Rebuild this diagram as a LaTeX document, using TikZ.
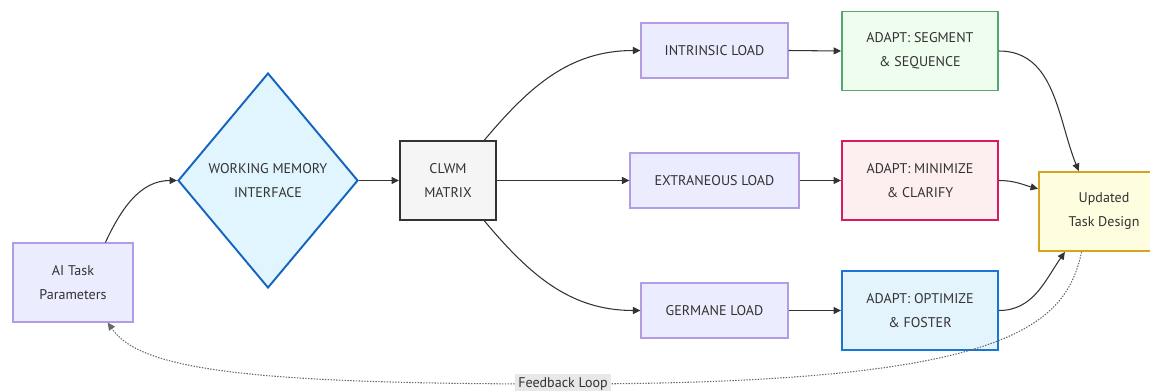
\documentclass[tikz,border=0pt]{standalone}
\usepackage{fontspec}
\setmainfont{PT Sans}
\usetikzlibrary{shapes.geometric,arrows.meta}

\definecolor{txt}{HTML}{333333}
\definecolor{lila}{HTML}{B39CE6}
\definecolor{lilafill}{HTML}{ECECFF}
\definecolor{wmline}{HTML}{1565C0}
\definecolor{wmfill}{HTML}{E1F5FE}
\definecolor{segline}{HTML}{52A86E}
\definecolor{segfill}{HTML}{EFFDEF}
\definecolor{minline}{HTML}{D81B60}
\definecolor{minfill}{HTML}{FDEFEF}
\definecolor{optline}{HTML}{1976D2}
\definecolor{optfill}{HTML}{E3F4FD}
\definecolor{updline}{HTML}{D4A520}
\definecolor{updfill}{HTML}{FFFDE0}

\tikzset{
  box/.style={draw=lila, fill=lilafill, line width=0.6pt, align=center, text=txt,
    inner sep=0pt, minimum height=1.1cm, font=\fontsize{8}{13.6}\selectfont},
  adapt/.style={box, line width=1.1pt, minimum width=3.12cm, minimum height=1.58cm},
  pfeil/.style={draw=txt, line width=0.6pt, -{Triangle[length=1.5mm,width=1.4mm]}},
  fback/.style={pfeil, draw=txt!75, dash pattern=on 0.8pt off 0.8pt},
}

\begin{document}
\begin{tikzpicture}[x=0.02cm,y=0.02cm]
    \useasboundingbox (0,0) rectangle (1150,390);

    \node[box, minimum width=2.4cm, minimum height=1.58cm] (ai) at (73,107.5) {AI Task\\Parameters};
    \node[box, diamond, draw=wmline, fill=wmfill, line width=1.1pt, minimum width=3.6cm, minimum height=4.3cm] (wm) at (268,209.5) {WORKING MEMORY\\INTERFACE};
    \node[box, draw=txt, fill=black!4, line width=1.1pt, minimum width=1.92cm, minimum height=1.58cm] (clwm) at (448,209.5) {CLWM\\MATRIX};

    \node[box, minimum width=2.94cm] (intr) at (714.5,339.5) {INTRINSIC LOAD};
    \node[box, minimum width=3.38cm] (extr) at (714.5,209.5) {EXTRANEOUS LOAD};
    \node[box, minimum width=2.94cm] (germ) at (714.5,79.5) {GERMANE LOAD};

    \node[adapt, draw=segline, fill=segfill] (seg) at (920,339) {ADAPT: SEGMENT\\\& SEQUENCE};
    \node[adapt, draw=minline, fill=minfill] (mini) at (920,209.5) {ADAPT: MINIMIZE\\\& CLARIFY};
    \node[adapt, draw=optline, fill=optfill] (opt) at (920,79.5) {ADAPT: OPTIMIZE\\\& FOSTER};

    \node[box, draw=updline, fill=updfill, line width=1.1pt, minimum width=2.6cm, minimum height=1.58cm] (upd) at (1104,178.5) {Updated\\Task Design};

    \draw[pfeil] (ai.51) to[out=65,in=180] (wm.west);
    \draw[pfeil] (wm.east) -- (clwm.west);
    \draw[pfeil] (clwm.48) to[out=50,in=180] (intr.west);
    \draw[pfeil] (clwm.east) -- (extr.west);
    \draw[pfeil] (clwm.-48) to[out=-50,in=180] (germ.west);

    \draw[pfeil] (intr.east) -- (seg.west);
    \draw[pfeil] (extr.east) -- (mini.west);
    \draw[pfeil] (germ.east) -- (opt.west);

    \draw[pfeil] (seg.east) to[out=0,in=112] (upd.122);
    \draw[pfeil] (mini.east) to[out=0,in=165] (upd.161);
    \draw[pfeil] (opt.east) to[out=0,in=-125] (upd.-134);

    % Rueckfuehrung unten
    \coordinate (fbpt) at (563,6);
    \draw[fback] (upd.-119) .. controls (1065,60) and (1000,6) .. (fbpt)
        .. controls (250,6) and (140,20) .. (ai.-49);
    \node[fill=black!9, text=txt, inner sep=2pt, font=\fontsize{8}{10}\selectfont] (fb) at (fbpt) {Feedback Loop};
\end{tikzpicture}
\end{document}
